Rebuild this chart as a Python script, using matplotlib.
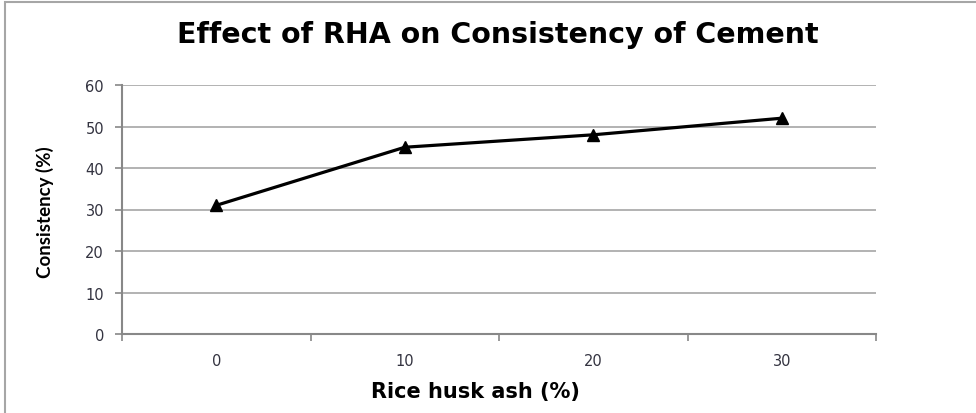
import numpy as np
import matplotlib.pyplot as plt
from matplotlib.patches import Rectangle

plt.rcParams["font.family"] = ["DejaVu Sans"]

rha_levels = ["0", "10", "20", "30"]
consistency = [31, 45, 48, 52]
y_ticks = [0, 10, 20, 30, 40, 50, 60]

fig = plt.figure(figsize=(9.76, 4.14), dpi=100)
fig.patches.append(Rectangle((5 / 976, -0.05), 1.2, 1 - 3 / 414 + 0.05,
                             transform=fig.transFigure, fill=False,
                             edgecolor="#a6a6a6", linewidth=1.5))

ax = fig.add_axes([122 / 976, 1 - 335 / 414, (876 - 122) / 976, (335 - 86) / 414])
x = np.arange(len(rha_levels))
ax.plot(x, consistency, color="black", linewidth=2.3, marker="^",
        markersize=9, zorder=3)

ax.set_xlim(-0.5, len(rha_levels) - 0.5)
ax.set_ylim(0, 60)
ax.set_yticks(y_ticks)
ax.set_xticks(np.arange(len(rha_levels) + 1) - 0.5)
ax.set_xticklabels([])
ax.set_xticks(x, minor=True)
ax.set_xticklabels(rha_levels, minor=True)
ax.tick_params(axis="x", which="minor", length=0, pad=14)
ax.tick_params(axis="x", which="major", length=5, color="#888888", width=1.2)
ax.tick_params(axis="y", length=5, color="#888888", width=1.2, pad=8)
for lab in ax.get_xticklabels(minor=True) + ax.get_yticklabels():
    lab.set_fontsize(10.5)
    lab.set_color("#333340")

ax.grid(axis="y", color="#a6a6a6", linewidth=1.2)
ax.set_axisbelow(True)
for side in ["top", "right"]:
    ax.spines[side].set_visible(False)
for side in ["left", "bottom"]:
    ax.spines[side].set_color("#888888")
    ax.spines[side].set_linewidth(1.5)

fig.text(498 / 976, 1 - 35 / 414, "Effect of RHA on Consistency of Cement",
         ha="center", va="center", fontsize=20.5, fontweight="bold")
fig.text(475 / 976, 1 - 392 / 414, "Rice husk ash (%)", ha="center", va="center",
         fontsize=15, fontweight="bold")
fig.text(45 / 976, 1 - 212 / 414, "Consistency (%)", ha="center", va="center",
         rotation=90, fontsize=13.5, fontweight="bold", family="Lato")

fig.savefig("out.png", dpi=100)
